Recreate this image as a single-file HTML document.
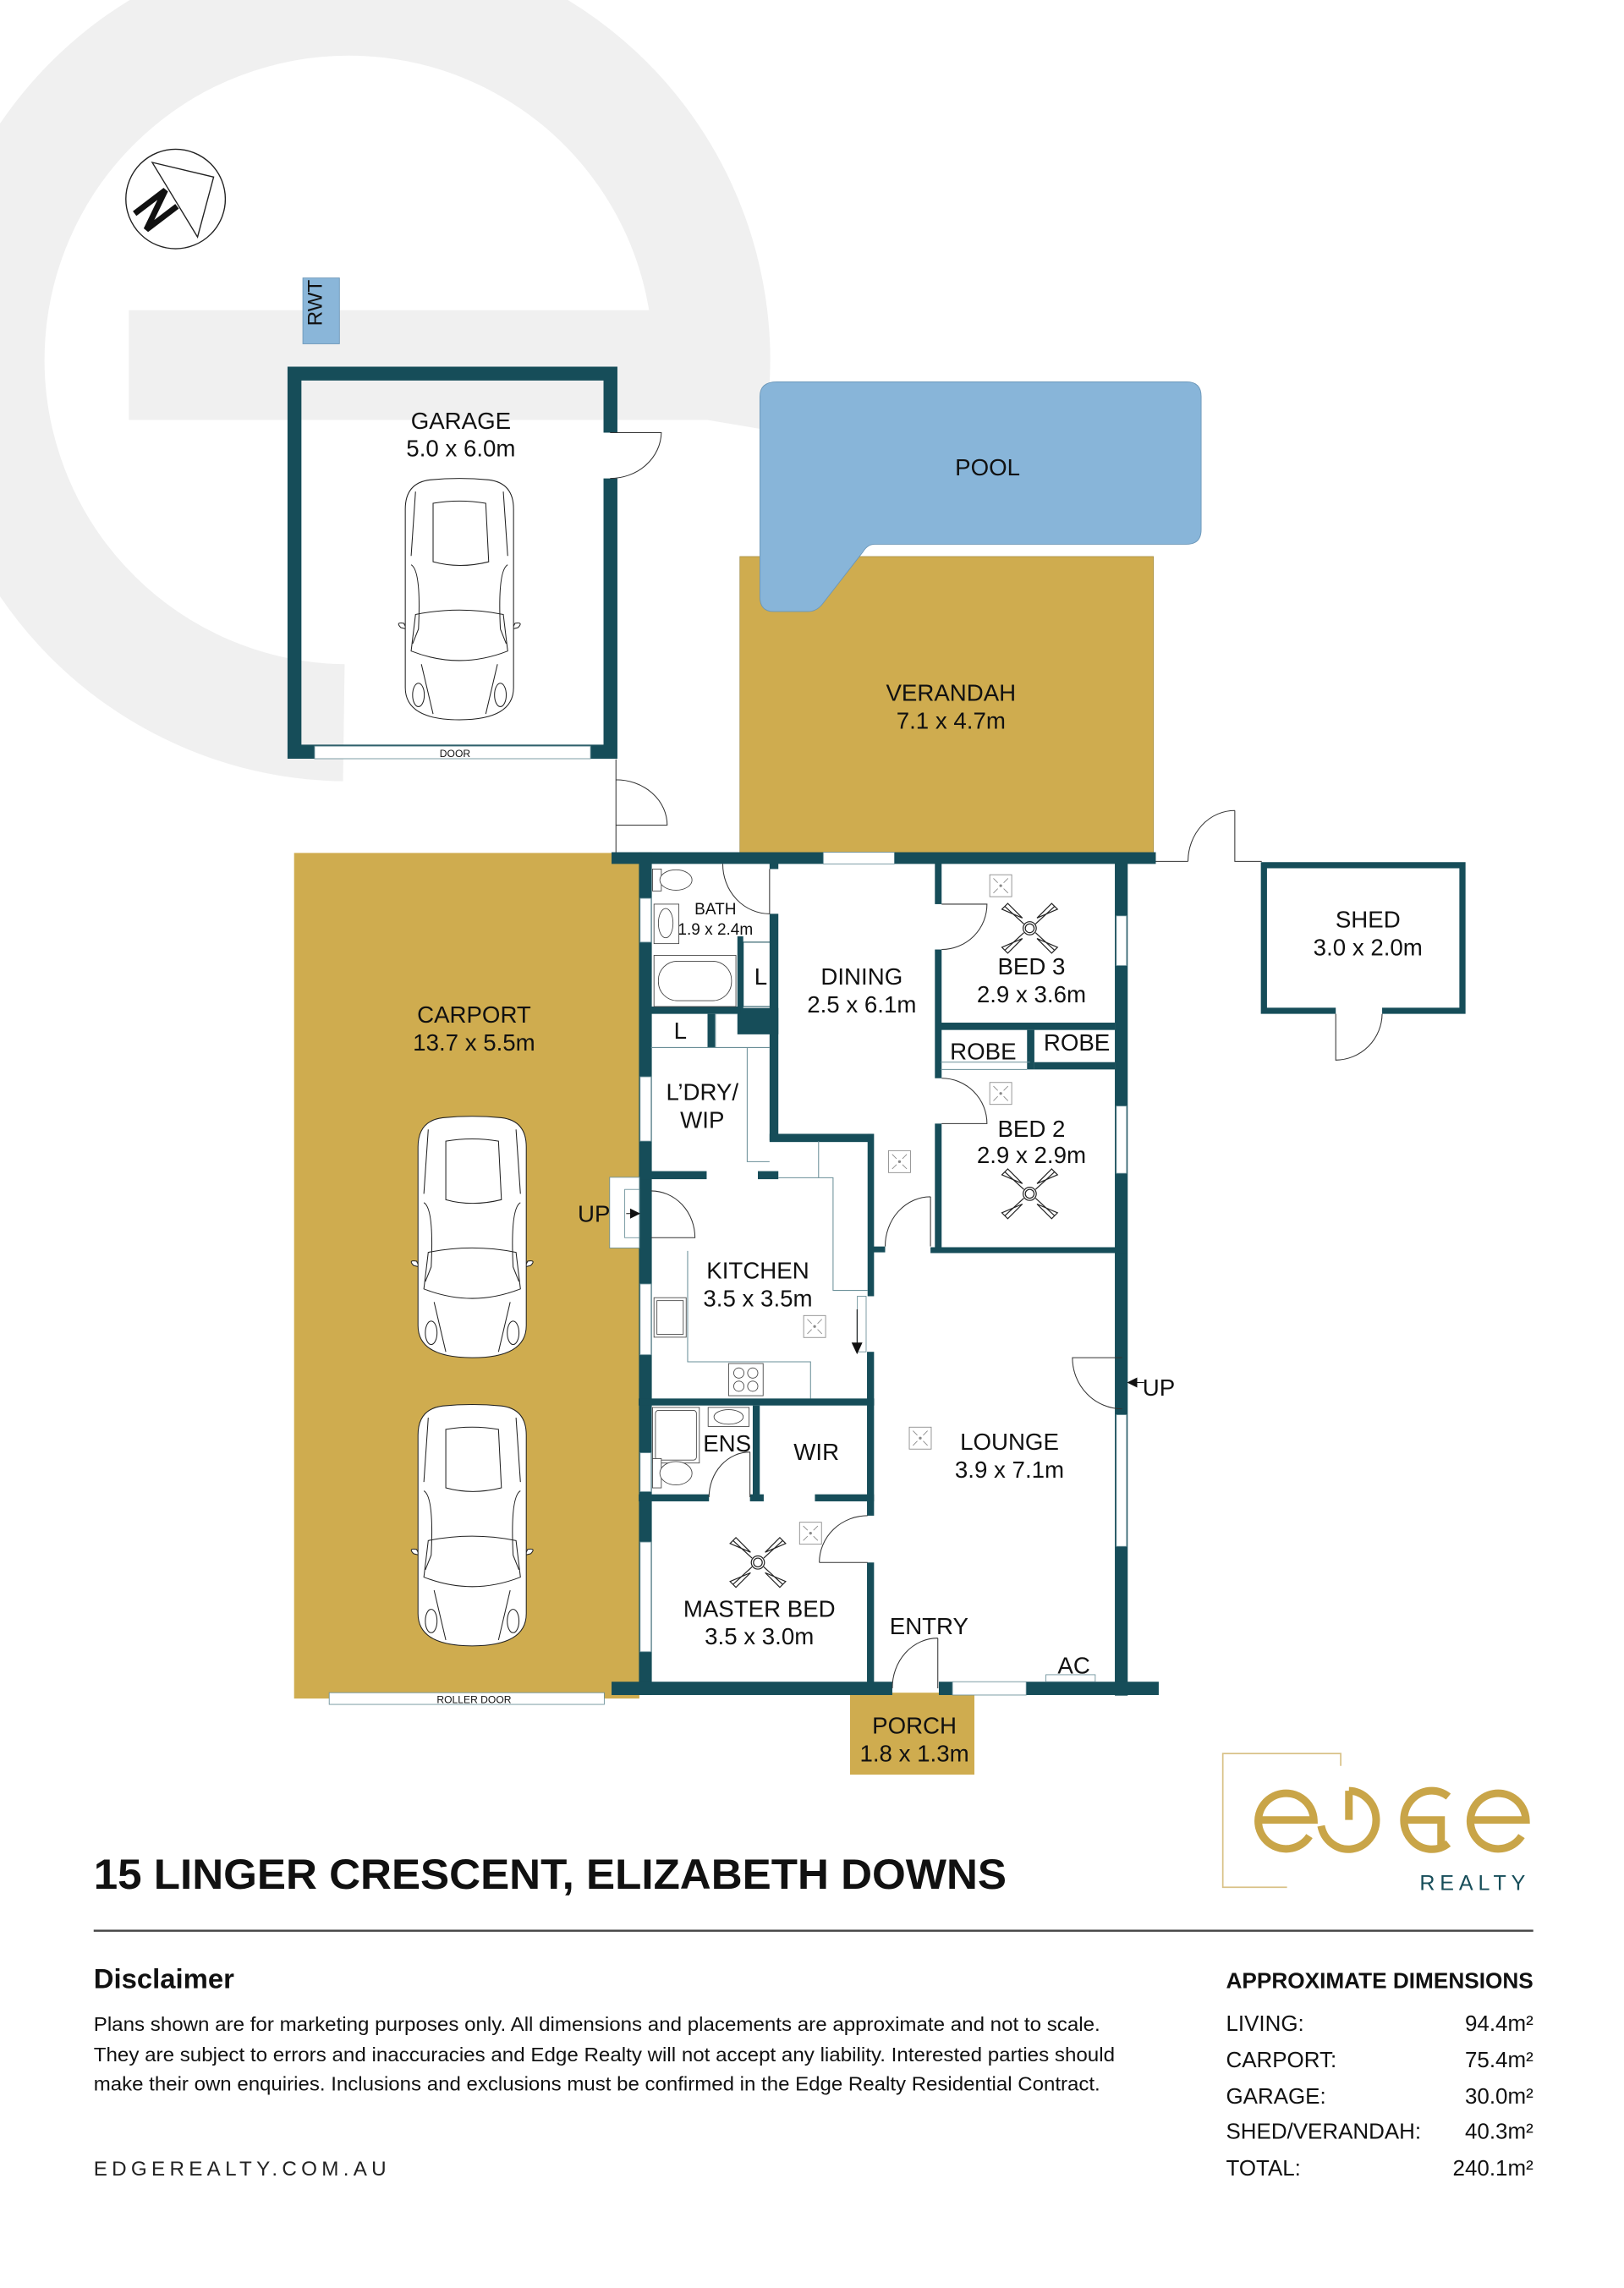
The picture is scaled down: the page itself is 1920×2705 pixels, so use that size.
<!DOCTYPE html>
<html><head><meta charset="utf-8"><style>
html,body{margin:0;padding:0;background:#fff;}
svg{display:block;}
text{font-family:"Liberation Sans",sans-serif;fill:#111;}
</style></head><body>
<svg width="1920" height="2705" viewBox="0 0 1110 1563.9" xmlns="http://www.w3.org/2000/svg">
<defs>
<g id="car" fill="#fff" stroke="#222" stroke-width="0.6">
<path d="M-40,19 Q-44,15 -38,16 L-36,20 Z M40,19 Q44,15 38,16 L36,20 Z"/>
<path d="M-37,-62 Q-37,-80 -20,-82 Q0,-84 20,-82 Q37,-80 37,-62 L37,60 Q37,82 0,82 Q-37,82 -37,60 Z"/>
<path d="M-18,-66 Q0,-69 18,-66 L20,-26 Q0,-21 -18,-26 Z" fill="none"/>
<path d="M-30,10 Q0,4 30,10 L33,35 Q0,48 -33,35 Z" fill="none"/>
<path d="M-33,-24 Q-26,-20 -28,20 L-32,30 M33,-24 Q26,-20 28,20 L32,30" fill="none"/>
<path d="M-26,44 L-18,78 M26,44 L18,78 M-30,-74 L-33,-30 M30,-74 L33,-30" fill="none"/>
<ellipse cx="-28" cy="65" rx="4" ry="8" fill="none"/><ellipse cx="28" cy="65" rx="4" ry="8" fill="none"/>
</g>
<g id="light" fill="none" stroke="#888" stroke-width="0.5">
<rect x="-7.5" y="-7.5" width="15" height="15"/><path d="M-5,-5 L-2,-2 M5,-5 L2,-2 M-5,5 L-2,2 M5,5 L2,2"/><circle r="0.7" fill="#888"/>
</g>
<g id="fan" fill="none" stroke="#222" stroke-width="0.7">
<path d="M-17,-15 L-4,-3 M17,-15 L4,-3 M-17,15 L-4,3 M17,15 L4,3"/>
<path d="M-19,-13 L-15,-17 L-5,-7 Z M19,-13 L15,-17 L5,-7 Z M-19,13 L-15,17 L-5,7 Z M19,13 L15,17 L5,7 Z"/>
<circle r="4.5" fill="#fff"/><circle r="3"/>
</g>
</defs>

<!-- watermark e -->
<path d="M483,287 A248,248 0 1 0 235,494" fill="none" stroke="#f0f0f0" stroke-width="80"/>
<rect x="88" y="212" width="395" height="75" fill="#f0f0f0"/>
<rect x="443" y="212" width="80" height="75" fill="#f0f0f0"/>

<!-- compass -->
<circle cx="120" cy="136" r="34" fill="#fff" stroke="#222" stroke-width="0.8"/>
<path d="M104,111 L146,121 L135,162 Z" fill="#fff" stroke="#222" stroke-width="0.8"/>
<path d="M92,146 L113,130 L100,157 L121,141" fill="none" stroke="#111" stroke-width="4"/>

<!-- RWT -->
<rect x="207" y="190" width="25" height="45" fill="#8ab6d9" stroke="#6a96b8" stroke-width="0.5"/>
<text x="226" y="213" font-size="14" text-anchor="middle" transform="rotate(-90 220 213)">RWT</text>

<!-- garage -->
<path d="M196.5,250.6 H422 V295.7 H412.5 V260.1 H206 V509 H412.5 V327 H422 V518.6 H196.5 Z" fill="#164d59"/>
<rect x="215" y="510" width="188.6" height="8.6" fill="#fff" stroke="#6a8f98" stroke-width="0.5"/>
<text x="311" y="517.5" font-size="7" text-anchor="middle">DOOR</text>
<path d="M417,295.7 H452 A35,32 0 0 1 417,327" fill="none" stroke="#333" stroke-width="0.6"/>
<text x="315" y="293" font-size="16" text-anchor="middle">GARAGE</text>
<text x="315" y="312" font-size="16" text-anchor="middle">5.0 x 6.0m</text>
<use href="#car" transform="translate(314,410)"/>
<path d="M421,519 V583 M421,564 H456 A35,31 0 0 0 421,533" fill="none" stroke="#333" stroke-width="0.6"/>

<!-- verandah & pool -->
<rect x="505.7" y="380.4" width="282.7" height="205" fill="#cfac4f" stroke="#a08a40" stroke-width="0.4"/>
<path d="M531,261 H811 Q821,261 821,271 V362 Q821,372 811,372 H598 Q593,372 590,377 L562,413 Q558,418 552,418 H529 Q519.4,418 519.4,408 V271 Q519.4,261 531,261 Z" fill="#88b5d9" stroke="#6a96b8" stroke-width="0.5"/>
<text x="675" y="325" font-size="16" text-anchor="middle">POOL</text>
<text x="650" y="479" font-size="16" text-anchor="middle">VERANDAH</text>
<text x="650" y="498" font-size="16" text-anchor="middle">7.1 x 4.7m</text>

<!-- carport & porch -->
<rect x="201" y="583" width="236" height="578" fill="#cfac4f"/>
<rect x="225" y="1157" width="188" height="8" fill="#fff" stroke="#6a8f98" stroke-width="0.5"/>
<text x="324" y="1164" font-size="7" text-anchor="middle">ROLLER DOOR</text>
<rect x="581" y="1157" width="85" height="56" fill="#cfac4f"/>
<text x="324" y="699" font-size="16" text-anchor="middle">CARPORT</text>
<text x="324" y="718" font-size="16" text-anchor="middle">13.7 x 5.5m</text>
<use href="#car" transform="translate(322.7,846)"/>
<use href="#car" transform="translate(322.7,1043)"/>
<text x="625" y="1185" font-size="16" text-anchor="middle">PORCH</text>
<text x="625" y="1204" font-size="16" text-anchor="middle">1.8 x 1.3m</text>

<!-- shed -->
<path d="M861.8,589.3 H1001.7 V693 H944.7 V688.8 H997.5 V593.5 H866 V688.8 H913 V693 H861.8 Z" fill="#164d59"/>
<path d="M913,693 V724.6 A32,32 0 0 0 944.7,693" fill="none" stroke="#333" stroke-width="0.6"/>
<text x="935" y="634" font-size="16" text-anchor="middle">SHED</text>
<text x="935" y="653" font-size="16" text-anchor="middle">3.0 x 2.0m</text>
<path d="M788.6,588.8 H812 M844,554 V588.8 H862.4 M812,588.8 A32,35 0 0 1 844,554" fill="none" stroke="#333" stroke-width="0.6"/>

<!-- house walls -->
<g fill="#164d59">
<rect x="418" y="582.5" width="372" height="8"/>
<rect x="436.7" y="582.5" width="8.8" height="576"/>
<rect x="762" y="590" width="8.8" height="569"/>
<rect x="418" y="1149.5" width="191.9" height="9.1"/>
<rect x="641.7" y="1149.5" width="150.3" height="9.1"/>
<rect x="526" y="590" width="6" height="4"/>
<rect x="526" y="624.6" width="6" height="155"/>
<rect x="504" y="640" width="4" height="53"/>
<rect x="504" y="689" width="28" height="18"/>
<rect x="445" y="688" width="61" height="5"/>
<rect x="483.6" y="693" width="5.1" height="23"/>
<rect x="437" y="800.5" width="46" height="5.5"/>
<rect x="518" y="800.5" width="14" height="5.5"/>
<rect x="526" y="775" width="71" height="5.6"/>
<rect x="593" y="775" width="4.4" height="111"/>
<rect x="597" y="852" width="8" height="4"/>
<rect x="592.6" y="924" width="4.8" height="112"/>
<rect x="592.6" y="1068" width="4.8" height="82"/>
<rect x="639" y="590" width="4.6" height="28"/>
<rect x="639" y="649" width="4.6" height="88"/>
<rect x="639" y="768" width="4.6" height="88"/>
<rect x="636" y="852.5" width="134" height="4"/>
<rect x="643" y="699" width="119" height="5"/>
<rect x="702" y="704" width="5" height="27"/>
<rect x="707" y="726" width="55" height="5"/>
<rect x="436.5" y="955.9" width="161" height="4.8"/>
<rect x="514.5" y="960.7" width="4.8" height="64.6"/>
<rect x="436.5" y="1021.4" width="48.1" height="4.8"/>
<rect x="512.6" y="1021.4" width="9.4" height="4.8"/>
<rect x="557" y="1021.4" width="40.4" height="4.8"/>
</g>
<g fill="none" stroke="#6a8f98" stroke-width="0.6">
<rect x="508" y="644" width="20" height="44" stroke="#164d59"/>
<path d="M445,716 H526 M510.7,716 V794 H526 M489,693 V716 M489,693 H504"/>
<path d="M532,805 H569.4 V882 H593 M559.5,780 V805"/>
<path d="M470,855 V930.8 H554 V956"/>
<path d="M704,726 H643 M643,731 H702"/>
</g>
<g fill="#fff" stroke="#6a8f98" stroke-width="0.5">
<rect x="562.7" y="582.5" width="48.6" height="8"/>
<rect x="651" y="1149.5" width="50.4" height="9.1"/>
<rect x="437.5" y="614" width="7.5" height="30"/>
<rect x="437.5" y="736" width="7.5" height="44"/>
<rect x="437.5" y="877.6" width="7.5" height="48.4"/>
<rect x="437.5" y="993" width="7.5" height="26.6"/>
<rect x="437.5" y="1054" width="7.5" height="75"/>
<rect x="763" y="626" width="7" height="34"/>
<rect x="763" y="756" width="7" height="46"/>
<rect x="763" y="967" width="7" height="90"/>
<rect x="714.9" y="1144.7" width="33.7" height="4.8"/>
<rect x="416.7" y="804.7" width="20.3" height="48.3"/>
<rect x="427" y="813" width="10" height="33"/>
<rect x="586" y="886" width="6" height="38"/>
</g>
<g fill="none" stroke="#333" stroke-width="0.6">
<path d="M494,590.5 A32,34 0 0 0 526,624.6 V594"/>
<path d="M643.6,618 H674.6 A31,31 0 0 1 643.6,649"/>
<path d="M643.6,768 H674.6 A31,31 0 0 0 643.6,737"/>
<path d="M636,818 V852 M636,818 A31,34 0 0 0 605,852"/>
<path d="M445,814 A30,32 0 0 1 475,846 H445"/>
<path d="M512.6,992.5 V1023.3 M512.6,992.5 A28,31 0 0 0 484.6,1023.3"/>
<path d="M560,1068 H593 M560,1068 A33,32 0 0 1 593,1036"/>
<path d="M641,1119.7 V1154 M641,1119.7 A31,34 0 0 0 609.9,1154"/>
<path d="M767,928 H733 A34,35 0 0 0 767,963"/>
</g>
<path d="M585.8,895 V925 M582.5,918 L585.8,925 L589,918 Z" stroke="#111" stroke-width="0.6" fill="#111"/>
<path d="M428,829.5 H437 M431,826.5 L437,829.5 L431,832.5 Z" stroke="#111" stroke-width="0.6" fill="#111"/>
<path d="M771,945 H782 M777,942 L771,945 L777,948 Z" stroke="#111" stroke-width="0.6" fill="#111"/>

<g fill="#fff" stroke="#444" stroke-width="0.5">
<rect x="446" y="594" width="6" height="15"/><ellipse cx="462" cy="601.5" rx="11" ry="7"/>
<rect x="447" y="618" width="17" height="27"/><ellipse cx="455" cy="631" rx="5" ry="10"/>
<rect x="447" y="653" width="56" height="35"/><rect x="450" y="657" width="50" height="27" rx="13"/>
<rect x="446" y="962" width="32" height="38"/><rect x="448" y="964" width="28" height="34" rx="2"/>
<rect x="484" y="962" width="28" height="13"/><ellipse cx="498" cy="968.5" rx="10" ry="5"/>
<rect x="446" y="997" width="6" height="20"/><ellipse cx="462" cy="1007" rx="11" ry="8"/>
<rect x="447" y="887" width="22" height="27"/><rect x="449" y="889" width="18" height="23"/>
<rect x="498" y="932" width="23.6" height="22"/>
<circle cx="505" cy="938.5" r="3.5"/><circle cx="514.5" cy="938.5" r="3.5"/><circle cx="505" cy="947.5" r="3.5"/><circle cx="514.5" cy="947.5" r="3.5"/>
</g>
<use href="#light" transform="translate(684,605.4)"/>
<use href="#light" transform="translate(684,747.4)"/>
<use href="#light" transform="translate(614.8,794)"/>
<use href="#light" transform="translate(556.8,906.7)"/>
<use href="#light" transform="translate(629,983)"/>
<use href="#light" transform="translate(554,1048)"/>
<use href="#fan" transform="translate(703.8,634.5)"/>
<use href="#fan" transform="translate(703.8,816)"/>
<use href="#fan" transform="translate(518,1068)"/>

<g font-size="16" text-anchor="middle">
<text x="489" y="625" font-size="11">BATH</text>
<text x="489" y="639" font-size="11">1.9 x 2.4m</text>
<text x="520" y="673">L</text>
<text x="465" y="710">L</text>
<text x="589" y="673">DINING</text>
<text x="589" y="692">2.5 x 6.1m</text>
<text x="705" y="666">BED 3</text>
<text x="705" y="685">2.9 x 3.6m</text>
<text x="672" y="724">ROBE</text>
<text x="736" y="718">ROBE</text>
<text x="705" y="777">BED 2</text>
<text x="705" y="795">2.9 x 2.9m</text>
<text x="480" y="752">L’DRY/</text>
<text x="480" y="771">WIP</text>
<text x="518" y="874">KITCHEN</text>
<text x="518" y="893">3.5 x 3.5m</text>
<text x="406" y="835">UP</text>
<text x="792" y="954">UP</text>
<text x="497" y="992">ENS</text>
<text x="558" y="998">WIR</text>
<text x="690" y="991">LOUNGE</text>
<text x="690" y="1010">3.9 x 7.1m</text>
<text x="519" y="1105">MASTER BED</text>
<text x="519" y="1124">3.5 x 3.0m</text>
<text x="635" y="1117">ENTRY</text>
<text x="734" y="1144">AC</text>
</g>

<path d="M916.4,1207 V1198.6 H835.8 V1290 H879.7" fill="none" stroke="#d9c288" stroke-width="1"/>
<g fill="none" stroke="#c9a548" stroke-width="5.2">
<path d="M895,1255 A19,19 0 1 1 898,1244 H861"/>
<path d="M922,1224 V1244 M922,1224 A19,20 0 1 1 903,1248"/>
<path d="M990,1228 A19,20 0 1 0 990,1260 M962,1244 H985 V1262"/>
<path d="M1040,1255 A19,19 0 1 1 1043,1244 H1006"/>
</g>
<text x="1046" y="1292" font-size="14.5" text-anchor="end" letter-spacing="3.4" style="fill:#164d59">REALTY</text>

<text x="64" y="1291" font-size="29" font-weight="bold" textLength="624" lengthAdjust="spacingAndGlyphs">15 LINGER CRESCENT, ELIZABETH DOWNS</text>
<rect x="64" y="1319" width="984" height="1.4" fill="#444"/>
<text x="64" y="1359" font-size="19" font-weight="bold">Disclaimer</text>
<g font-size="13.6" style="fill:#333">
<text x="64" y="1388" textLength="688" lengthAdjust="spacingAndGlyphs">Plans shown are for marketing purposes only. All dimensions and placements are approximate and not to scale.</text>
<text x="64" y="1409" textLength="698" lengthAdjust="spacingAndGlyphs">They are subject to errors and inaccuracies and Edge Realty will not accept any liability. Interested parties should</text>
<text x="64" y="1429" textLength="688" lengthAdjust="spacingAndGlyphs">make their own enquiries. Inclusions and exclusions must be confirmed in the Edge Realty Residential Contract.</text>
</g>
<text x="64" y="1487" font-size="14" letter-spacing="3" textLength="203" style="fill:#222">EDGEREALTY.COM.AU</text>
<text x="838" y="1359" font-size="15" font-weight="bold" textLength="210" lengthAdjust="spacingAndGlyphs">APPROXIMATE DIMENSIONS</text>
<g font-size="15" style="fill:#222">
<text x="838" y="1388">LIVING:</text><text x="1048" y="1388" text-anchor="end">94.4m²</text>
<text x="838" y="1413">CARPORT:</text><text x="1048" y="1413" text-anchor="end">75.4m²</text>
<text x="838" y="1438">GARAGE:</text><text x="1048" y="1438" text-anchor="end">30.0m²</text>
<text x="838" y="1462">SHED/VERANDAH:</text><text x="1048" y="1462" text-anchor="end">40.3m²</text>
<text x="838" y="1487">TOTAL:</text><text x="1048" y="1487" text-anchor="end">240.1m²</text>
</g>
</svg>
</body></html>
